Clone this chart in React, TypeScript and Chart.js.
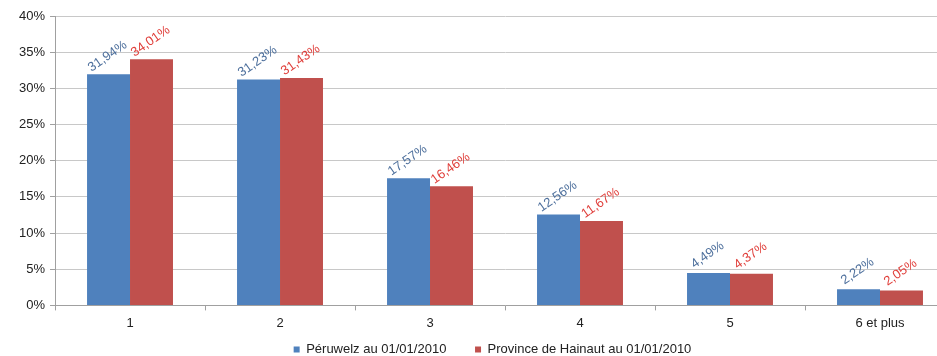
import React, { useEffect, useRef } from "react";
import { Chart, registerables } from "chart.js";

Chart.register(...registerables);

const categories = ["1", "2", "3", "4", "5", "6 et plus"];
const peruwelz = [31.94, 31.23, 17.57, 12.56, 4.49, 2.22];
const hainaut = [34.01, 31.43, 16.46, 11.67, 4.37, 2.05];
const seriesNames = ["Péruwelz au 01/01/2010", "Province de Hainaut au 01/01/2010"];
const barColors = ["#4f81bd", "#c0504d"];
const labelColors = ["#4d6f9c", "#e0403c"];
const FONT = "Arial, 'Liberation Sans', sans-serif";

const labelPlugin = {
  id: "rotLabels",
  afterLayout(chart: any) {
    if (chart.legend) {
      chart.legend.left += 16;
    }
  },
  afterDatasetsDraw(chart: any) {
    const ctx = chart.ctx;
    chart.data.datasets.forEach((ds: any, di: number) => {
      const meta = chart.getDatasetMeta(di);
      meta.data.forEach((el: any, i: number) => {
        const v = ds.data[i] as number;
        const txt = v.toFixed(2).replace(".", ",") + "%";
        ctx.save();
        ctx.translate(el.x - 1, el.y - 18);
        ctx.rotate((-35 * Math.PI) / 180);
        ctx.font = "13px " + FONT;
        ctx.fillStyle = labelColors[di];
        ctx.textAlign = "center";
        ctx.textBaseline = "middle";
        ctx.fillText(txt, 0, 0);
        ctx.restore();
      });
    });
  },
};

export default function App() {
  const ref = useRef<HTMLCanvasElement>(null);
  useEffect(() => {
    document.body.style.margin = "0";
    const chart = new Chart(ref.current!, {
      type: "bar",
      data: {
        labels: categories,
        datasets: [
          { label: seriesNames[0], data: peruwelz, backgroundColor: barColors[0] },
          { label: seriesNames[1], data: hainaut, backgroundColor: barColors[1] },
        ],
      },
      options: {
        responsive: false,
        animation: false,
        layout: { padding: { top: 16, right: 2, left: 14, bottom: -10 } },
        datasets: {
          bar: { barPercentage: 1, categoryPercentage: 0.573 },
        },
        scales: {
          x: {
            grid: { display: true, drawOnChartArea: false, drawTicks: true, tickLength: 5, color: "#a0a0a0", offset: true },
            border: { color: "#a0a0a0" },
            ticks: { color: "#222", font: { size: 13, family: FONT }, padding: 5 },
          },
          y: {
            min: 0,
            max: 40,
            ticks: {
              stepSize: 5,
              color: "#222",
              font: { size: 13, family: FONT },
              callback: (v: any) => v + "%",
              padding: 5,
            },
            grid: { color: "#c8c8c8", drawTicks: true, tickLength: 5, tickColor: "#a0a0a0" },
            border: { color: "#a0a0a0" },
          },
        },
        plugins: {
          legend: {
            position: "bottom",
            labels: {
              boxWidth: 6,
              boxHeight: 6,
              padding: 7,
              color: "#222",
              font: { size: 13, family: FONT },
              generateLabels: (c: any) => {
                const items = Chart.defaults.plugins.legend.labels.generateLabels(c);
                items[0].text = items[0].text + "\u00a0\u00a0\u00a0\u00a0\u00a0\u00a0";
                return items;
              },
            },
          },
          tooltip: { enabled: false },
        },
      },
      plugins: [labelPlugin],
    });
    return () => chart.destroy();
  }, []);
  return (
    <div style={{ width: 937, height: 356, overflow: "hidden" }}>
      <canvas ref={ref} width={957} height={356} style={{ display: "block" }} />
    </div>
  );
}
